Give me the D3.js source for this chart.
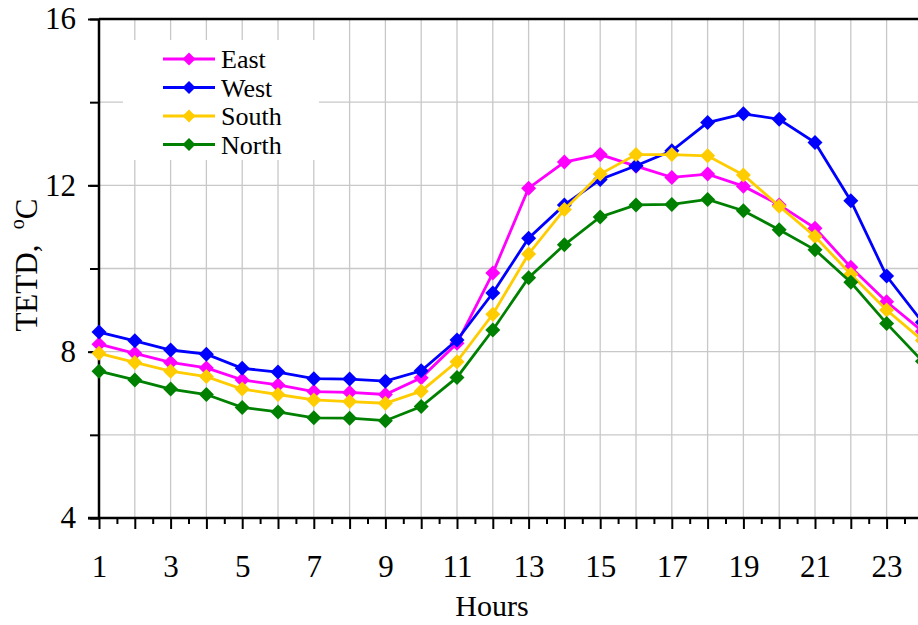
<!DOCTYPE html>
<html lang="en">
<head>
	<meta charset="utf-8">
	<title>TETD by hour</title>
	<script src="https://d3js.org/d3.v7.min.js"></script>
	<style>
	body { margin: 0; background: #fff; }
	svg text { font-family: "Liberation Serif", "Times New Roman", serif; fill: #000; }
	</style>
</head>
<body>
	<div id="chart"></div>
	<script>
		// data (TETD in degC per hour)
		let hours = [1, 2, 3, 4, 5, 6, 7, 8, 9, 10, 11, 12, 13, 14, 15, 16, 17, 18, 19, 20, 21, 22, 23, 24];
		let east  = [8.18, 7.96, 7.74, 7.61, 7.32, 7.20, 7.04, 7.02, 6.97, 7.37, 8.20, 9.89, 11.93, 12.56, 12.74, 12.46, 12.19, 12.27, 11.98, 11.53, 10.97, 10.03, 9.20, 8.49];
		let west  = [8.47, 8.26, 8.04, 7.94, 7.60, 7.51, 7.35, 7.34, 7.29, 7.54, 8.28, 9.41, 10.73, 11.53, 12.14, 12.47, 12.83, 13.51, 13.72, 13.59, 13.03, 11.63, 9.82, 8.71];
		let south = [7.96, 7.74, 7.53, 7.40, 7.10, 6.97, 6.84, 6.80, 6.76, 7.05, 7.76, 8.90, 10.35, 11.42, 12.27, 12.74, 12.74, 12.71, 12.25, 11.50, 10.77, 9.86, 9.00, 8.27];
		let north = [7.53, 7.32, 7.10, 6.97, 6.66, 6.55, 6.41, 6.40, 6.34, 6.68, 7.38, 8.52, 9.78, 10.57, 11.24, 11.53, 11.54, 11.66, 11.39, 10.93, 10.45, 9.67, 8.68, 7.77];
		let seriesNames = ["East", "West", "South", "North"];
		let seriesColors = ["#ff00ff", "#0000ff", "#ffcc00", "#008000"];
		let xLabelTicks = [1, 3, 5, 7, 9, 11, 13, 15, 17, 19, 21, 23];
		let yLabelTicks = [4, 8, 12, 16];
		let yGridTicks = [4, 6, 8, 10, 12, 14, 16];

		let width = 918, height = 625;
		let plotLeft = 99, plotTop = 19, plotBottom = 518;
		let hourStep = 35.8;

		let svg = d3.select("#chart").append("svg")
			.attr("width", width)
			.attr("height", height);

		let x = d3.scaleLinear().domain([1, 24]).range([plotLeft, plotLeft + 23 * hourStep]);
		let y = d3.scaleLinear().domain([4, 16]).range([plotBottom, plotTop]);

		// gridlines
		let grid = svg.append("g").attr("stroke", "#c8c8c8").attr("stroke-width", 1.3);
		grid.selectAll("line.v").data(hours.slice(1)).enter().append("line")
			.attr("x1", d => x(d)).attr("x2", d => x(d))
			.attr("y1", plotTop).attr("y2", plotBottom);
		grid.selectAll("line.h").data(yGridTicks.slice(1, -1)).enter().append("line")
			.attr("x1", plotLeft).attr("x2", width)
			.attr("y1", d => y(d)).attr("y2", d => y(d));

		// top frame line
		svg.append("line")
			.attr("x1", plotLeft).attr("x2", width)
			.attr("y1", plotTop).attr("y2", plotTop)
			.attr("stroke", "#000").attr("stroke-width", 2.5);

		// x axis: major ticks at hours, minor at half hours
		let halfHours = hours.map(h => h + 0.5);
		let xMajor = svg.append("g").attr("transform", `translate(0,${plotBottom})`)
			.call(d3.axisBottom(x).tickValues(hours).tickSize(11).tickFormat(""));
		let xMinor = svg.append("g").attr("transform", `translate(0,${plotBottom})`)
			.call(d3.axisBottom(x).tickValues(halfHours).tickSize(6).tickFormat(""));
		let xLab = svg.append("g").attr("transform", `translate(0,${plotBottom})`)
			.call(d3.axisBottom(x).tickValues(xLabelTicks).tickSize(0).tickPadding(37).tickFormat(d3.format("d")));
		[xMajor, xMinor].forEach(g => {
			g.select(".domain").remove();
			g.selectAll(".tick line").attr("stroke", "#000").attr("stroke-width", 2);
		});
		xLab.select(".domain").remove();
		xLab.selectAll("text").attr("font-size", 31).attr("font-family", null);
		svg.append("line")
			.attr("x1", plotLeft - 11).attr("x2", width)
			.attr("y1", plotBottom).attr("y2", plotBottom)
			.attr("stroke", "#000").attr("stroke-width", 2.5);

		// y axis
		let yMinor = svg.append("g").attr("transform", `translate(${plotLeft},0)`)
			.call(d3.axisLeft(y).tickValues(yGridTicks).tickSize(9).tickFormat(""));
		yMinor.select(".domain").remove();
		yMinor.selectAll(".tick line").attr("stroke", "#000").attr("stroke-width", 2);
		let yLab = svg.append("g").attr("transform", `translate(${plotLeft},0)`)
			.call(d3.axisLeft(y).tickValues(yLabelTicks).tickSize(11).tickPadding(12).tickFormat(d3.format("d")));
		yLab.select(".domain").remove();
		yLab.selectAll(".tick line").attr("stroke", "#000").attr("stroke-width", 2);
		yLab.selectAll("text").attr("font-size", 31).attr("font-family", null);
		svg.append("line")
			.attr("x1", plotLeft).attr("x2", plotLeft)
			.attr("y1", plotTop).attr("y2", plotBottom)
			.attr("stroke", "#000").attr("stroke-width", 2.5);

		// axis titles
		svg.append("text")
			.attr("x", 492).attr("y", 616)
			.attr("text-anchor", "middle")
			.attr("font-size", 30)
			.text("Hours");
		let yTitle = svg.append("text")
			.attr("transform", "translate(37,265) rotate(-90)")
			.attr("text-anchor", "middle")
			.attr("font-size", 31);
		yTitle.append("tspan").text("TETD,\u00a0\u00a0");
		yTitle.append("tspan").attr("font-size", 20).attr("dy", -13).text("o");
		yTitle.append("tspan").attr("dy", 13).text("C");

		// series
		let diamond = "M0,-7.5L7.5,0L0,7.5L-7.5,0Z";
		let allSeries = [east, west, south, north];
		let line = d3.line().x((d, i) => x(hours[i])).y(d => y(d));
		allSeries.forEach((values, k) => {
			let g = svg.append("g");
			g.append("path")
				.datum(values)
				.attr("fill", "none")
				.attr("stroke", seriesColors[k])
				.attr("stroke-width", 2.8)
				.attr("d", line);
			g.selectAll("path.marker").data(values).enter().append("path")
				.attr("class", "marker")
				.attr("d", diamond)
				.attr("fill", seriesColors[k])
				.attr("transform", (d, i) => `translate(${x(hours[i])},${y(d)})`);
		});

		// legend
		let legend = svg.append("g");
		legend.append("rect")
			.attr("x", 123).attr("y", 40)
			.attr("width", 196).attr("height", 120)
			.attr("fill", "#fff");
		let rows = legend.selectAll("g.row").data(seriesNames).enter().append("g")
			.attr("class", "row")
			.attr("transform", (d, i) => `translate(163,${59 + i * 28.5})`);
		rows.append("line")
			.attr("x1", 0).attr("x2", 52)
			.attr("stroke", (d, i) => seriesColors[i])
			.attr("stroke-width", 2.8);
		rows.append("path")
			.attr("d", "M0,-6.5L6.5,0L0,6.5L-6.5,0Z")
			.attr("transform", "translate(26,0)")
			.attr("fill", (d, i) => seriesColors[i]);
		rows.append("text")
			.attr("x", 58).attr("y", 9)
			.attr("font-size", 26)
			.text(d => d);
	</script>
</body>
</html>
